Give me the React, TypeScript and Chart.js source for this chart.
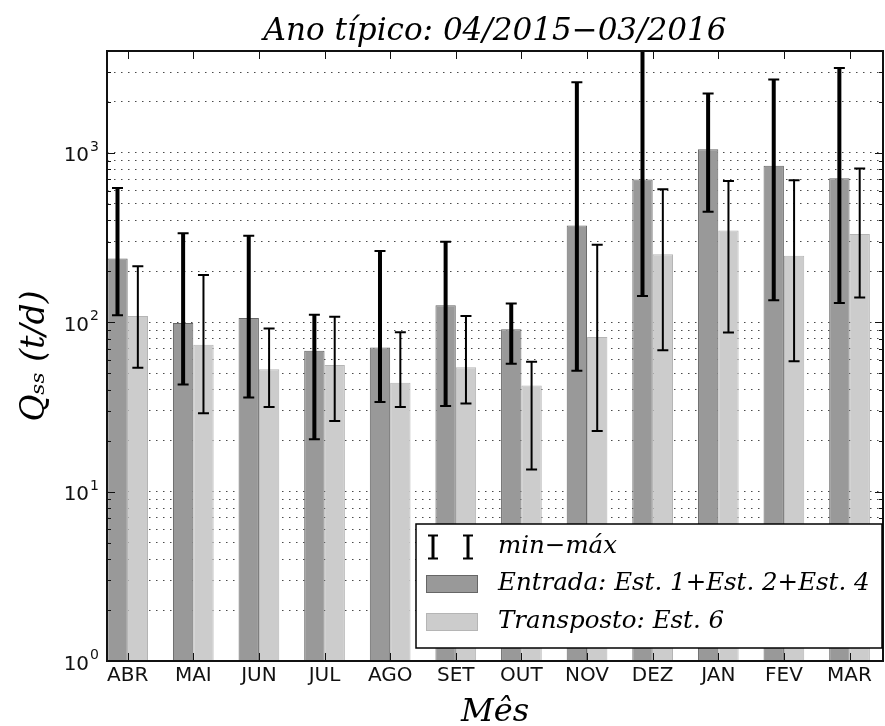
import React, { useEffect, useRef } from 'react';
import { Chart, registerables } from 'chart.js';

Chart.register(...registerables);

const months = ['ABR', 'MAI', 'JUN', 'JUL', 'AGO', 'SET', 'OUT', 'NOV', 'DEZ', 'JAN', 'FEV', 'MAR'];
const entradaMean = [238, 99, 106, 68, 71, 126, 91, 373, 698, 1052, 839, 710];
const entradaMin = [110, 43, 36, 20.4, 33.8, 32, 57, 51.7, 143, 449, 135, 130];
const entradaMax = [622, 336, 324, 111, 264, 299, 129, 2618, 5000, 2244, 2716, 3170];
const transpMean = [109, 73.6, 52.9, 55.9, 44, 54.2, 42.4, 81.8, 252, 349, 247, 332];
const transpMin = [53.9, 29, 31.6, 26.1, 31.6, 33.2, 13.5, 22.8, 68.5, 87.2, 58.8, 140];
const transpMax = [214, 190, 92, 108, 87.5, 109, 58.5, 287, 611, 682, 691, 809];
const yDecades = [1, 10, 100, 1000];
const yTickBase = '10';
const yTickExps = ['0', '1', '2', '3'];
const yMin = 1;
const yMax = 4000;
const titleText = 'Ano típico: 04/2015−03/2016';
const xTitle = 'Mês';
const yTitle = 'Qₛₛ (t/d)';
const legendLabels = ['min−máx', 'Entrada: Est. 1+Est. 2+Est. 4', 'Transposto: Est. 6'];

const DARK = '#999999';
const DARK_EDGE = '#666666';
const LIGHT = '#cccccc';
const LIGHT_EDGE = '#b5b5b5';
const SERIF = "'DejaVu Serif', serif";
const SANS = "'DejaVu Sans', sans-serif";

function drawErrorBar(ctx: CanvasRenderingContext2D, cx: number, yTop: number, yBot: number, lw: number, capHalf: number) {
  ctx.strokeStyle = '#000';
  ctx.lineCap = 'butt';
  ctx.lineWidth = lw;
  ctx.beginPath();
  ctx.moveTo(cx, yTop);
  ctx.lineTo(cx, yBot);
  ctx.stroke();
  ctx.lineWidth = 2;
  ctx.beginPath();
  ctx.moveTo(cx - capHalf, yTop);
  ctx.lineTo(cx + capHalf, yTop);
  ctx.moveTo(cx - capHalf, yBot);
  ctx.lineTo(cx + capHalf, yBot);
  ctx.stroke();
}

const overlayPlugin = {
  id: 'overlay',
  afterDraw(chart: any) {
    const { ctx, chartArea: a, scales } = chart;
    const x = scales.x;
    const y = scales.y;

    // error bars
    ctx.save();
    ctx.beginPath();
    ctx.rect(a.left, a.top, a.right - a.left, a.bottom - a.top);
    ctx.clip();
    const series = [
      { ds: 0, min: entradaMin, max: entradaMax, lw: 4 },
      { ds: 1, min: transpMin, max: transpMax, lw: 2 },
    ];
    series.forEach((s) => {
      const meta = chart.getDatasetMeta(s.ds);
      meta.data.forEach((bar: any, i: number) => {
        drawErrorBar(ctx, bar.x, y.getPixelForValue(s.max[i]), y.getPixelForValue(s.min[i]), s.lw, 5.5);
      });
    });
    ctx.restore();

    // inward tick marks
    ctx.save();
    ctx.strokeStyle = '#111';
    ctx.lineWidth = 1;
    ctx.beginPath();
    x.ticks.forEach((t: any) => {
      const px = Math.round(x.getPixelForValue(t.value)) + 0.5;
      ctx.moveTo(px, a.top);
      ctx.lineTo(px, a.top + 8);
      ctx.moveTo(px, a.bottom);
      ctx.lineTo(px, a.bottom - 8);
    });
    y.ticks.forEach((t: any) => {
      const py = Math.round(y.getPixelForValue(t.value)) + 0.5;
      const len = yDecades.indexOf(t.value) >= 0 ? 8 : 4;
      ctx.moveTo(a.left, py);
      ctx.lineTo(a.left + len, py);
      ctx.moveTo(a.right, py);
      ctx.lineTo(a.right - len, py);
    });
    ctx.stroke();

    // frame
    ctx.lineWidth = 2;
    ctx.strokeStyle = '#111';
    ctx.strokeRect(a.left, a.top, a.right - a.left, a.bottom - a.top);
    ctx.restore();

    // y tick labels (10 with superscript exponent)
    ctx.save();
    ctx.fillStyle = '#111';
    ctx.textBaseline = 'alphabetic';
    ctx.textAlign = 'right';
    yDecades.forEach((d, k) => {
      const py = y.getPixelForValue(d);
      const right = a.left - 8;
      ctx.font = `14px ${SANS}`;
      const ew = ctx.measureText(yTickExps[k]).width;
      ctx.fillText(yTickExps[k], right, py - 2);
      ctx.font = `20px ${SANS}`;
      ctx.fillText(yTickBase, right - ew - 1, py + 8.5);
    });
    ctx.restore();

    // legend
    ctx.save();
    const lw = 466;
    const lh = 124;
    const lx = a.right - 1 - lw;
    const ly = a.bottom - 13 - lh;
    ctx.fillStyle = '#fff';
    ctx.fillRect(lx, ly, lw, lh);
    ctx.lineWidth = 1.5;
    ctx.strokeStyle = '#000';
    ctx.strokeRect(lx, ly, lw, lh);
    const rows = [ly + 23, ly + 60, ly + 98];
    drawErrorBar(ctx, lx + 17, rows[0] - 11.5, rows[0] + 11.5, 3, 5);
    drawErrorBar(ctx, lx + 52, rows[0] - 11.5, rows[0] + 11.5, 3, 5);
    const sw = [
      { c: DARK, e: DARK_EDGE },
      { c: LIGHT, e: LIGHT_EDGE },
    ];
    sw.forEach((s, k) => {
      const cy = rows[k + 1];
      ctx.fillStyle = s.c;
      ctx.fillRect(lx + 10, cy - 9, 52, 18);
      ctx.strokeStyle = s.e;
      ctx.lineWidth = 1;
      ctx.strokeRect(lx + 10.5, cy - 8.5, 51, 17);
    });
    ctx.fillStyle = '#000';
    ctx.font = `italic 24.5px ${SERIF}`;
    ctx.textBaseline = 'middle';
    ctx.textAlign = 'left';
    legendLabels.forEach((t, k) => {
      ctx.fillText(t, lx + 82, rows[k]);
    });
    ctx.restore();
  },
};

export default function App() {
  const ref = useRef<HTMLCanvasElement>(null);

  useEffect(() => {
    document.body.style.margin = '0';
    const canvas = ref.current;
    if (!canvas) return;
    const chart = new Chart(canvas, {
      type: 'bar',
      data: {
        datasets: [
          {
            label: legendLabels[1],
            data: entradaMean.map((v, i) => ({ x: i, y: v })),
            backgroundColor: DARK,
            borderColor: DARK_EDGE,
            borderWidth: 1,
          },
          {
            label: legendLabels[2],
            data: transpMean.map((v, i) => ({ x: i, y: v })),
            backgroundColor: LIGHT,
            borderColor: LIGHT_EDGE,
            borderWidth: 1,
          },
        ],
      },
      options: {
        responsive: false,
        animation: false,
        devicePixelRatio: 1,
        layout: { padding: { left: 0, right: 2, top: 0, bottom: 0 } },
        datasets: { bar: { categoryPercentage: 0.62, barPercentage: 1 } },
        plugins: {
          legend: { display: false },
          tooltip: { enabled: false },
          title: {
            display: true,
            fullSize: false,
            text: titleText,
            color: '#000',
            font: { family: SERIF, size: 31, style: 'italic', weight: 'normal', lineHeight: 1.2 },
            padding: { top: 13.8, bottom: 0 },
          },
        },
        scales: {
          x: {
            type: 'linear',
            min: -0.315,
            max: 11.51,
            bounds: 'data',
            offset: false,
            grid: { display: false, drawTicks: false, offset: false },
            border: { display: false },
            afterBuildTicks: (s: any) => {
              s.ticks = months.map((_, i) => ({ value: i }));
            },
            afterFit: (s: any) => {
              s.height = 65;
            },
            ticks: {
              autoSkip: false,
              maxRotation: 0,
              padding: 3,
              color: '#111',
              font: { family: SANS, size: 20 },
              callback: (_v: any, i: number) => months[i],
            },
            title: {
              display: true,
              text: xTitle,
              color: '#000',
              font: { family: SERIF, size: 32, style: 'italic', lineHeight: 1 },
              padding: { top: 0, bottom: -3 },
            },
          },
          y: {
            type: 'logarithmic',
            min: yMin,
            max: yMax,
            z: 1,
            afterBuildTicks: (s: any) => {
              const t: any[] = [];
              yDecades.forEach((d) => {
                for (let k = 1; k <= 9; k++) {
                  if (k * d <= yMax) t.push({ value: k * d });
                }
              });
              s.ticks = t;
            },
            afterFit: (s: any) => {
              s.width = 107;
            },
            grid: { color: '#4a4a4a', lineWidth: 1, drawTicks: false },
            border: { display: false, dash: [1.5, 5.5] },
            ticks: { display: false, autoSkip: false },
            title: {
              display: true,
              text: yTitle,
              color: '#000',
              font: { family: SERIF, size: 33, style: 'italic', lineHeight: 1.2 },
              padding: { top: 16, bottom: 0 },
            },
          },
        },
      },
      plugins: [overlayPlugin],
    } as any);
    return () => chart.destroy();
  }, []);

  return (
    <div style={{ width: 885, height: 726 }}>
      <canvas ref={ref} width={885} height={726} style={{ display: 'block' }} />
    </div>
  );
}
